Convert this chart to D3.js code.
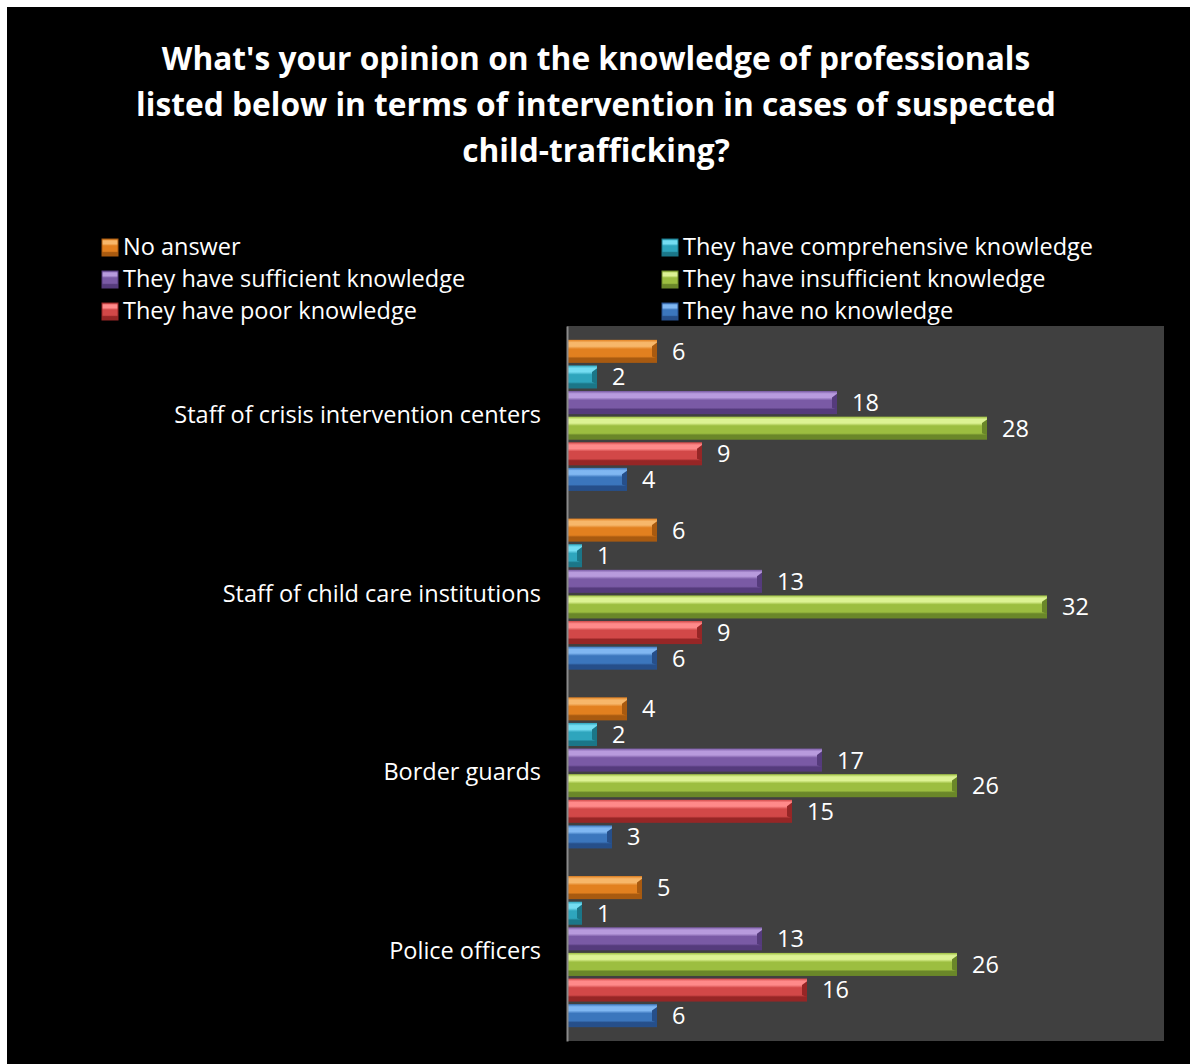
<!DOCTYPE html>
<html>
<head>
<meta charset="utf-8">
<script src="https://cdn.jsdelivr.net/npm/d3@7/dist/d3.min.js"></script>
<style>
  html, body { margin: 0; padding: 0; background: #ffffff; }
  svg { display: block; }
  text { font-family: "Open Sans", Lato, sans-serif; fill: #ffffff; }
</style>
</head>
<body>
<svg id="chart" width="1190" height="1064"></svg>
<script>
// Survey categories (top to bottom) and answer series
const categories = [
  "Staff of crisis intervention centers",
  "Staff of child care institutions",
  "Border guards",
  "Police officers"
];
const seriesNames = [
  "No answer",
  "They have comprehensive knowledge",
  "They have sufficient knowledge",
  "They have insufficient knowledge",
  "They have poor knowledge",
  "They have no knowledge"
];
// counts per series, in category order
const noAnswer      = [6, 6, 4, 5];
const comprehensive = [2, 1, 2, 1];
const sufficient    = [18, 13, 17, 13];
const insufficient  = [28, 32, 26, 26];
const poor          = [9, 9, 15, 16];
const noKnowledge   = [4, 6, 3, 6];
const seriesValues = [noAnswer, comprehensive, sufficient, insufficient, poor, noKnowledge];
const titleLines = [
  "What's your opinion on the knowledge of professionals",
  "listed below in terms of intervention in cases of suspected",
  "child-trafficking?"
];

// light / main / dark shades per series
const palette = [
  { light: "#F7B76A", main: "#E2801F", dark: "#A85A10" },
  { light: "#74DDF2", main: "#2EA5BD", dark: "#1B7688" },
  { light: "#B89BDD", main: "#7A5AA5", dark: "#553B7C" },
  { light: "#DDF394", main: "#9CBE40", dark: "#6A8729" },
  { light: "#FF8A8A", main: "#D24848", dark: "#962626" },
  { light: "#80B7F2", main: "#3B76BD", dark: "#264F8A" }
];

const textSize = "23.5px";

const svg = d3.select("#chart");
const defs = svg.append("defs");

palette.forEach((c, i) => {
  const g = defs.append("linearGradient")
    .attr("id", "bar" + i).attr("x1", 0).attr("y1", 0).attr("x2", 0).attr("y2", 1);
  g.append("stop").attr("offset", "0%").attr("stop-color", c.main);
  g.append("stop").attr("offset", "12%").attr("stop-color", c.light);
  g.append("stop").attr("offset", "28%").attr("stop-color", c.light);
  g.append("stop").attr("offset", "40%").attr("stop-color", c.main);
  g.append("stop").attr("offset", "72%").attr("stop-color", c.main);
  g.append("stop").attr("offset", "80%").attr("stop-color", c.dark);
  g.append("stop").attr("offset", "100%").attr("stop-color", c.dark);
});

// black card
svg.append("rect").attr("x", 7).attr("y", 7).attr("width", 1183).attr("height", 1057).attr("fill", "#000");

// title
svg.append("g").selectAll("text").data(titleLines).join("text")
  .attr("x", 596).attr("y", (d, i) => 70 + i * 46)
  .attr("text-anchor", "middle")
  .style("font-size", "31.7px").style("font-weight", "bold")
  .text(d => d);

// legend (two columns)
const legendOrder = [0, 1, 2, 3, 4, 5];
const legend = svg.append("g").selectAll("g").data(legendOrder).join("g")
  .attr("transform", (d, i) => `translate(${i % 2 === 0 ? 102 : 662},${239 + Math.floor(i / 2) * 32})`);
legend.append("rect").attr("width", 16).attr("height", 17)
  .attr("fill", d => `url(#bar${d})`).attr("stroke", d => palette[d].dark).attr("stroke-width", 1);
legend.append("text").attr("x", 21).attr("y", 16)
  .style("font-size", textSize).text(d => seriesNames[d]);

// plot area
const plot = { left: 567, right: 1164, top: 326, bottom: 1041 };
svg.append("rect").attr("x", plot.left).attr("y", plot.top)
  .attr("width", plot.right - plot.left).attr("height", plot.bottom - plot.top)
  .attr("fill", "#404040");

const x = d3.scaleLinear().domain([0, 40]).range([plot.left, plot.left + 600]);
const y0 = d3.scaleBand().domain(categories).range([plot.top, plot.bottom]).padding(0);
const y1 = d3.scaleBand().domain(d3.range(seriesNames.length)).range([0, y0.bandwidth()])
  .paddingInner(0.1).paddingOuter(0.54);

const rows = [];
categories.forEach((cat, ci) => {
  seriesValues.forEach((vals, si) => rows.push({ cat, si, v: vals[ci] }));
});

const bars = svg.append("g").selectAll("g").data(rows).join("g")
  .attr("transform", d => `translate(0,${y0(d.cat) + y1(d.si)})`);
const bh = y1.bandwidth();
bars.append("rect")
  .attr("x", x(0)).attr("y", 0)
  .attr("width", d => x(d.v) - x(0)).attr("height", bh)
  .attr("fill", d => `url(#bar${d.si})`);
// darker end cap with bevel
bars.append("path")
  .attr("d", d => {
    const xe = x(d.v), w = Math.min(5, x(d.v) - x(0));
    return `M${xe - w},${bh * 0.28}L${xe},${bh * 0.12}L${xe},${bh * 0.8}L${xe - w},${bh * 0.72}Z`;
  })
  .attr("fill", d => palette[d.si].dark);
// value labels
bars.append("text")
  .attr("x", d => x(d.v) + 15).attr("y", bh / 2)
  .attr("dy", "0.36em")
  .style("font-size", textSize)
  .text(d => d.v);

// category axis
const axis = svg.append("g").attr("transform", `translate(${plot.left},0)`)
  .call(d3.axisLeft(y0).tickSize(0).tickPadding(26));
axis.select(".domain").attr("stroke", "#8a8a8a").attr("stroke-width", 2);
axis.selectAll("text").style("font-size", textSize)
  .style("font-family", "'Open Sans', Lato, sans-serif").attr("fill", "#fff");
</script>
</body>
</html>
